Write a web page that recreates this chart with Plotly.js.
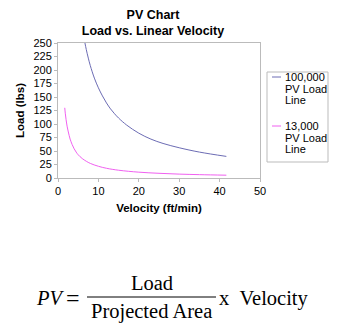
<!DOCTYPE html>
<html><head><meta charset="utf-8">
<script src="https://cdn.plot.ly/plotly-3.0.1.min.js"></script>
<style>html,body{margin:0;padding:0;background:#fff;}#chart{width:339px;height:335px;}</style>
</head><body><div id="chart"></div>
<script>
// Velocity (ft/min) and Load (lbs) values
const velocity100k = [6.67, 7, 7.5, 8, 9, 10, 11, 12, 13, 14, 15, 17, 20, 23, 26, 30, 35, 41.67];
const load100k     = [250, 238, 222, 208, 185, 167, 152, 139, 128, 119, 111, 98, 83, 72, 64, 56, 48, 40];
const velocity13k = [1.67, 1.8, 2, 2.25, 2.5, 2.75, 3, 3.5, 4, 4.5, 5, 6, 7, 8, 10, 12, 15, 20, 25, 30, 35, 41.67];
const load13k     = [130, 120, 108, 96, 87, 79, 72, 62, 54, 48, 43, 36, 31, 27, 21.7, 18, 14.4, 10.8, 8.7, 7.2, 6.2, 5.2];
const seriesNames = [["100,000", "PV Load", "Line"], ["13,000", "PV Load", "Line"]];
const seriesColors = ["#6c6cb4", "#f060f0"];
const xTicks = [0, 10, 20, 30, 40, 50];
const yTicks = [0, 25, 50, 75, 100, 125, 150, 175, 200, 225, 250];

const L = 58, R = 260, T = 43, B = 178, W = 339, H = 335;
const px = x => (x - L) / (R - L);
const py = y => (B - y) / (B - T);

const traces = [
  {x: velocity100k, y: load100k, name: seriesNames[0].join(" "), mode: "lines", line: {color: seriesColors[0], width: 1, shape: "spline"}, showlegend: false},
  {x: velocity13k, y: load13k, name: seriesNames[1].join(" "), mode: "lines", line: {color: seriesColors[1], width: 1, shape: "spline"}, showlegend: false}
];
const serif = "Liberation Serif, Times New Roman, serif";
const fsz = 20.5;

// legend drawn as box + samples + labels
const legTop = 72, legBot = 162, legL = 267, legR = 328;
const legItemTops = [77, 126];
const shapes = [
  {type: "rect", xref: "paper", yref: "paper", x0: px(legL), x1: px(legR), y0: py(legBot), y1: py(legTop), line: {color: "#bbb", width: 1}, fillcolor: "#fff"},
  {type: "line", xref: "paper", yref: "paper", x0: px(87), x1: px(216), y0: py(297), y1: py(297), line: {color: "#000", width: 1}}
];
const annotations = [];
legItemTops.forEach((y0, i) => {
  shapes.push({type: "line", xref: "paper", yref: "paper", x0: px(272), x1: px(281), y0: py(y0), y1: py(y0), line: {color: seriesColors[i], width: 1}});
  seriesNames[i].forEach((t, j) => {
    annotations.push({xref: "paper", yref: "paper", x: px(283), y: py(y0 + j * 11.7), text: t, showarrow: false,
      xanchor: "left", yanchor: "middle", font: {size: 11}});
  });
});
annotations.push(
  {xref: "paper", yref: "paper", x: px(152), y: py(283), text: "Load", showarrow: false, font: {family: serif, size: fsz}, xanchor: "center", yanchor: "middle"},
  {xref: "paper", yref: "paper", x: px(151), y: py(311), text: "Projected Area", showarrow: false, font: {family: serif, size: fsz}, xanchor: "center", yanchor: "middle"},
  {xref: "paper", yref: "paper", x: px(34), y: py(298), text: "<i>PV</i>", showarrow: false, font: {family: serif, size: fsz}, xanchor: "left", yanchor: "middle"},
  {xref: "paper", yref: "paper", x: px(72.5), y: py(298), text: "=", showarrow: false, font: {family: serif, size: 24}, xanchor: "center", yanchor: "middle"},
  {xref: "paper", yref: "paper", x: px(217), y: py(298), text: "x&nbsp;&nbsp;Velocity", showarrow: false, font: {family: serif, size: fsz}, xanchor: "left", yanchor: "middle"}
);

const layout = {
  width: W, height: H,
  margin: {l: L, r: W - R, t: T, b: H - B, pad: 0},
  paper_bgcolor: "#fff", plot_bgcolor: "#fff",
  showlegend: false,
  font: {family: "Liberation Sans, Arial, sans-serif", size: 11, color: "#000"},
  title: {text: "<b>PV Chart<br>Load vs. Linear Velocity</b>", font: {size: 12.5}, xref: "container", x: 153 / W, xanchor: "center",
          yref: "container", y: 1 - 19 / H, yanchor: "top"},
  xaxis: {range: [0, 50], tickvals: xTicks, ticks: "outside", ticklen: 3, tickcolor: "#bbb",
          showgrid: false, zeroline: false, showline: true, linecolor: "#bbb", mirror: true, linewidth: 1,
          title: {text: "<b>Velocity (ft/min)</b>", font: {size: 11.5}, standoff: 7}},
  yaxis: {range: [0, 250], tickvals: yTicks, ticks: "outside", ticklen: 3, tickcolor: "#bbb",
          showgrid: false, zeroline: false, showline: true, linecolor: "#bbb", mirror: true, linewidth: 1,
          title: {text: "<b>Load (lbs)</b>", font: {size: 11.5}, standoff: 6}},
  shapes: shapes,
  annotations: annotations
};
Plotly.newPlot("chart", traces, layout, {displayModeBar: false, staticPlot: true});
</script></body></html>
